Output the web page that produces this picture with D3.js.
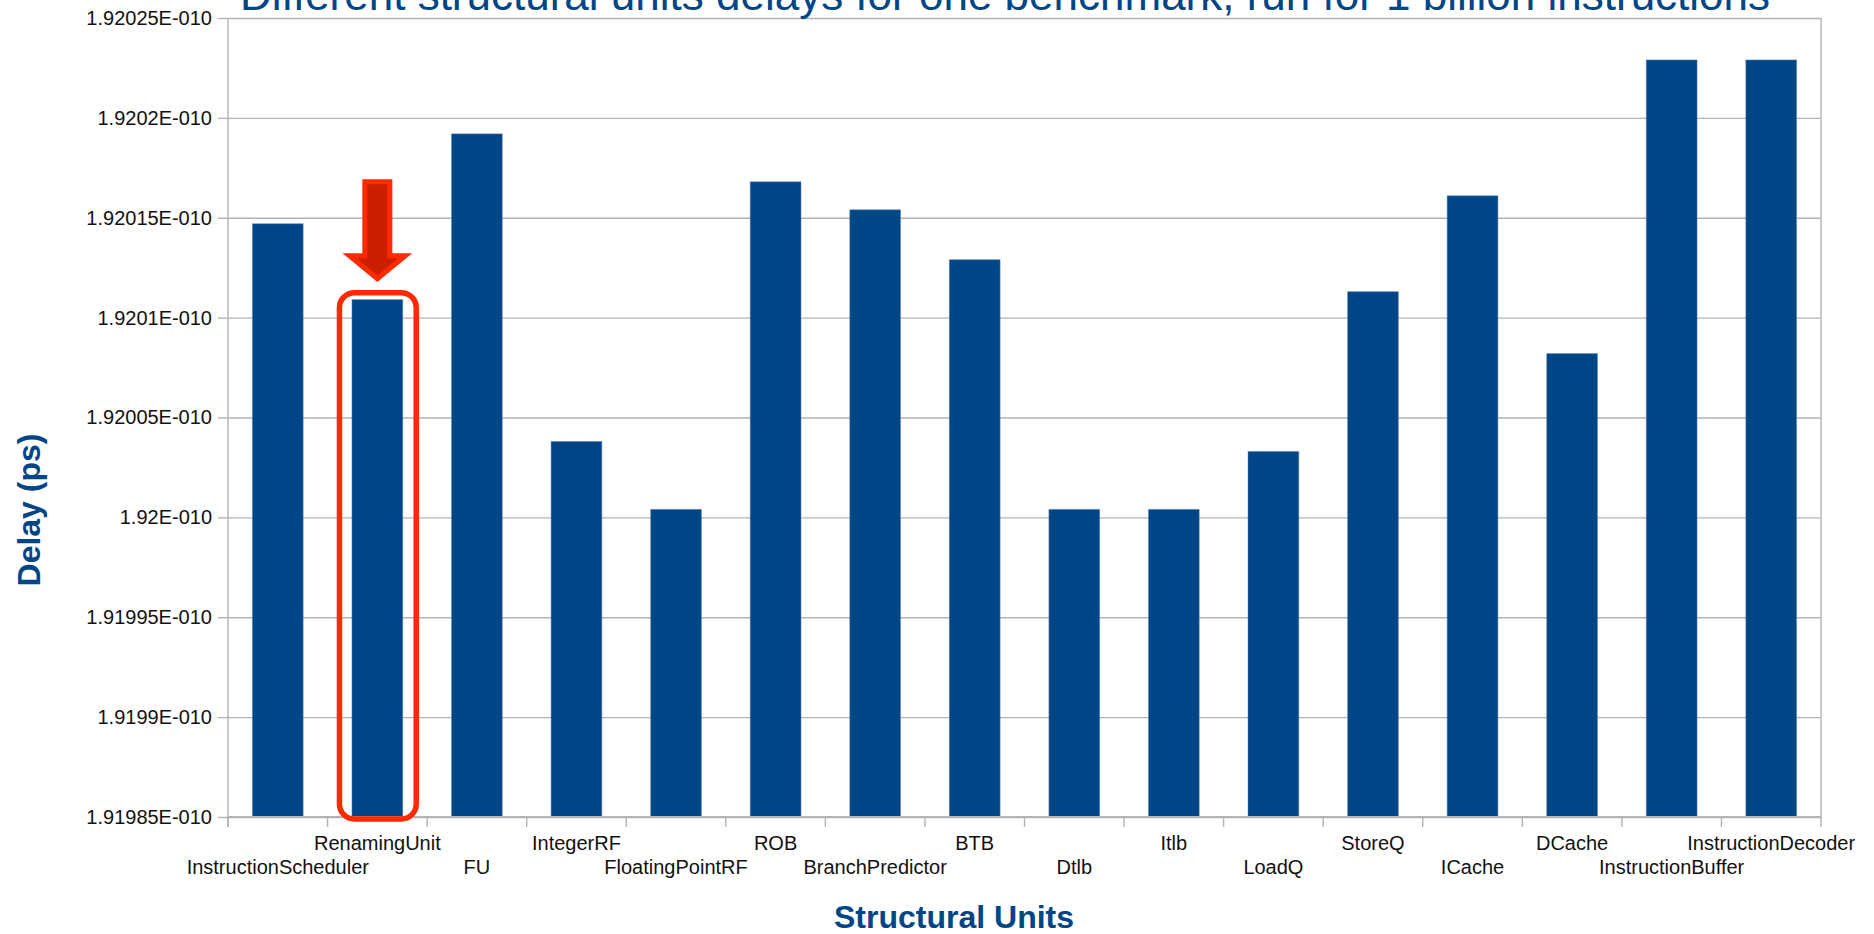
<!DOCTYPE html>
<html>
<head>
<meta charset="utf-8">
<script src="https://cdn.jsdelivr.net/npm/d3@7"></script>
<style>
  body { margin: 0; background: #fff; }
  text { font-family: "Liberation Sans", Arial, sans-serif; }
</style>
</head>
<body>
<svg id="chart" width="1874" height="934"></svg>
<script>
// chart data
var units = ["InstructionScheduler", "RenamingUnit", "FU", "IntegerRF", "FloatingPointRF",
  "ROB", "BranchPredictor", "BTB", "Dtlb", "Itlb", "LoadQ", "StoreQ", "ICache", "DCache",
  "InstructionBuffer", "InstructionDecoder"];

var delays = [1.920147e-10, 1.920109e-10, 1.920192e-10, 1.920038e-10, 1.920004e-10,
  1.920168e-10, 1.920154e-10, 1.920129e-10, 1.920004e-10, 1.920004e-10, 1.920033e-10,
  1.920113e-10, 1.920161e-10, 1.920082e-10, 1.920229e-10, 1.920229e-10];

var yTickValues = [1.91985e-10, 1.9199e-10, 1.91995e-10, 1.92e-10, 1.92005e-10,
  1.9201e-10, 1.92015e-10, 1.9202e-10, 1.92025e-10];
var yTickLabels = ["1.91985E-010", "1.9199E-010", "1.91995E-010", "1.92E-010", "1.92005E-010",
  "1.9201E-010", "1.92015E-010", "1.9202E-010", "1.92025E-010"];

var highlighted = "RenamingUnit";
var titleText = "Different structural units delays for one benchmark, run for 1 billion instructions";

var settings = {
  width : 1874,
  height : 934,
  marginLeft : 228,
  marginRight : 53,
  marginTop : 18,
  marginBottom : 117,
  barColor : "#004586",
  gridColor : "#b3b3b3",
  titleColor : "#004586",
  red : "#ff2a00",
  darkRed : "#cc1f00"
};

var svg = d3.select("#chart");
var plotW = settings.width - settings.marginLeft - settings.marginRight;
var plotH = settings.height - settings.marginTop - settings.marginBottom;

var g = svg.append("g")
  .attr("transform", "translate(" + settings.marginLeft + "," + settings.marginTop + ")");

// scales
var xCell = d3.scaleBand().domain(units).range([0, plotW]).padding(0);
var x = d3.scaleBand().domain(units).range([0, plotW]).paddingInner(0.49).paddingOuter(0.245);
var y = d3.scaleLinear().domain([yTickValues[0], yTickValues[yTickValues.length - 1]]).range([plotH, 0]);

// horizontal grid
g.append("g")
  .attr("class", "grid")
  .call(d3.axisLeft(y).tickValues(yTickValues).tickSize(-plotW).tickFormat(""))
  .call(function(s){
    s.select(".domain").remove();
    s.selectAll("line").attr("stroke", settings.gridColor).attr("stroke-width", 1.4);
  });

// right border
g.append("line")
  .attr("x1", plotW).attr("x2", plotW).attr("y1", 0).attr("y2", plotH)
  .attr("stroke", settings.gridColor).attr("stroke-width", 1.4);

// y axis
g.append("g")
  .call(d3.axisLeft(y).tickValues(yTickValues).tickSize(10).tickPadding(6)
    .tickFormat(function(d, i){ return yTickLabels[i]; }))
  .call(function(s){
    s.select(".domain").attr("stroke", settings.gridColor).attr("stroke-width", 1.4)
      .attr("d", "M0,0V" + (plotH + 10));
    s.selectAll(".tick line").attr("stroke", settings.gridColor).attr("stroke-width", 1.4);
    s.selectAll(".tick text")
      .attr("fill", "#111")
      .style("font-size", "20px")
      .style("font-family", "'Liberation Sans', Arial, sans-serif");
  });

// bars
g.selectAll("rect.bar")
  .data(units)
  .enter()
  .append("rect")
  .attr("class", "bar")
  .attr("x", function(d){ return x(d); })
  .attr("width", x.bandwidth())
  .attr("y", function(d, i){ return y(delays[i]); })
  .attr("height", function(d, i){ return plotH - y(delays[i]); })
  .attr("fill", settings.barColor)
  .attr("stroke", "#5f86b5")
  .attr("stroke-opacity", 0.5)
  .attr("stroke-width", 1);

// x axis line and ticks at cell boundaries
g.append("line")
  .attr("x1", 0).attr("x2", plotW).attr("y1", plotH).attr("y2", plotH)
  .attr("stroke", settings.gridColor).attr("stroke-width", 2);

var bounds = units.map(function(u){ return xCell(u); }).concat([plotW]);
g.selectAll("line.xtick")
  .data(bounds)
  .enter()
  .append("line")
  .attr("class", "xtick")
  .attr("x1", function(d){ return d; }).attr("x2", function(d){ return d; })
  .attr("y1", plotH).attr("y2", plotH + 10)
  .attr("stroke", settings.gridColor).attr("stroke-width", 1.4);

// staggered category labels
g.selectAll("text.xlabel")
  .data(units)
  .enter()
  .append("text")
  .attr("class", "xlabel")
  .attr("x", function(d){ return xCell(d) + xCell.bandwidth() / 2; })
  .attr("y", function(d, i){ return plotH + (i % 2 === 1 ? 33 : 57); })
  .attr("text-anchor", "middle")
  .attr("fill", "#111")
  .style("font-size", "20px")
  .text(function(d){ return d; });

// highlight box and arrow
var hi = units.indexOf(highlighted);
var hx = x(highlighted);
var hTop = y(delays[hi]);
g.append("rect")
  .attr("x", hx - 12.5)
  .attr("y", hTop - 7)
  .attr("width", x.bandwidth() + 26)
  .attr("height", plotH - hTop + 9)
  .attr("rx", 15).attr("ry", 15)
  .attr("fill", "none")
  .attr("stroke", settings.red)
  .attr("stroke-width", 5.5);

var cx = hx + x.bandwidth() / 2;
var tip = hTop - 21;
var arrow = d3.path();
arrow.moveTo(cx - 12.5, tip - 97);
arrow.lineTo(cx + 12.5, tip - 97);
arrow.lineTo(cx + 12.5, tip - 23);
arrow.lineTo(cx + 28, tip - 23);
arrow.lineTo(cx, tip);
arrow.lineTo(cx - 28, tip - 23);
arrow.lineTo(cx - 12.5, tip - 23);
arrow.closePath();
g.append("path")
  .attr("d", arrow.toString())
  .attr("fill", settings.darkRed)
  .attr("stroke", settings.red)
  .attr("stroke-width", 5)
  .attr("stroke-linejoin", "miter");

// axis titles
svg.append("text")
  .attr("transform", "translate(40,510) rotate(-90)")
  .attr("text-anchor", "middle")
  .attr("fill", settings.titleColor)
  .style("font-size", "32px")
  .style("font-weight", "bold")
  .text("Delay (ps)");

svg.append("text")
  .attr("x", 954)
  .attr("y", 928)
  .attr("text-anchor", "middle")
  .attr("fill", settings.titleColor)
  .style("font-size", "32px")
  .style("font-weight", "bold")
  .text("Structural Units");

// chart title, cut off at the top of the page
var title = svg.append("text")
  .attr("x", 1005)
  .attr("y", 10)
  .attr("text-anchor", "middle")
  .attr("fill", settings.titleColor)
  .style("font-size", "36px")
  .text(titleText);
var tw = title.node().getComputedTextLength();
title.style("font-size", (36 * 1530 / tw).toFixed(1) + "px");
</script>
</body>
</html>
